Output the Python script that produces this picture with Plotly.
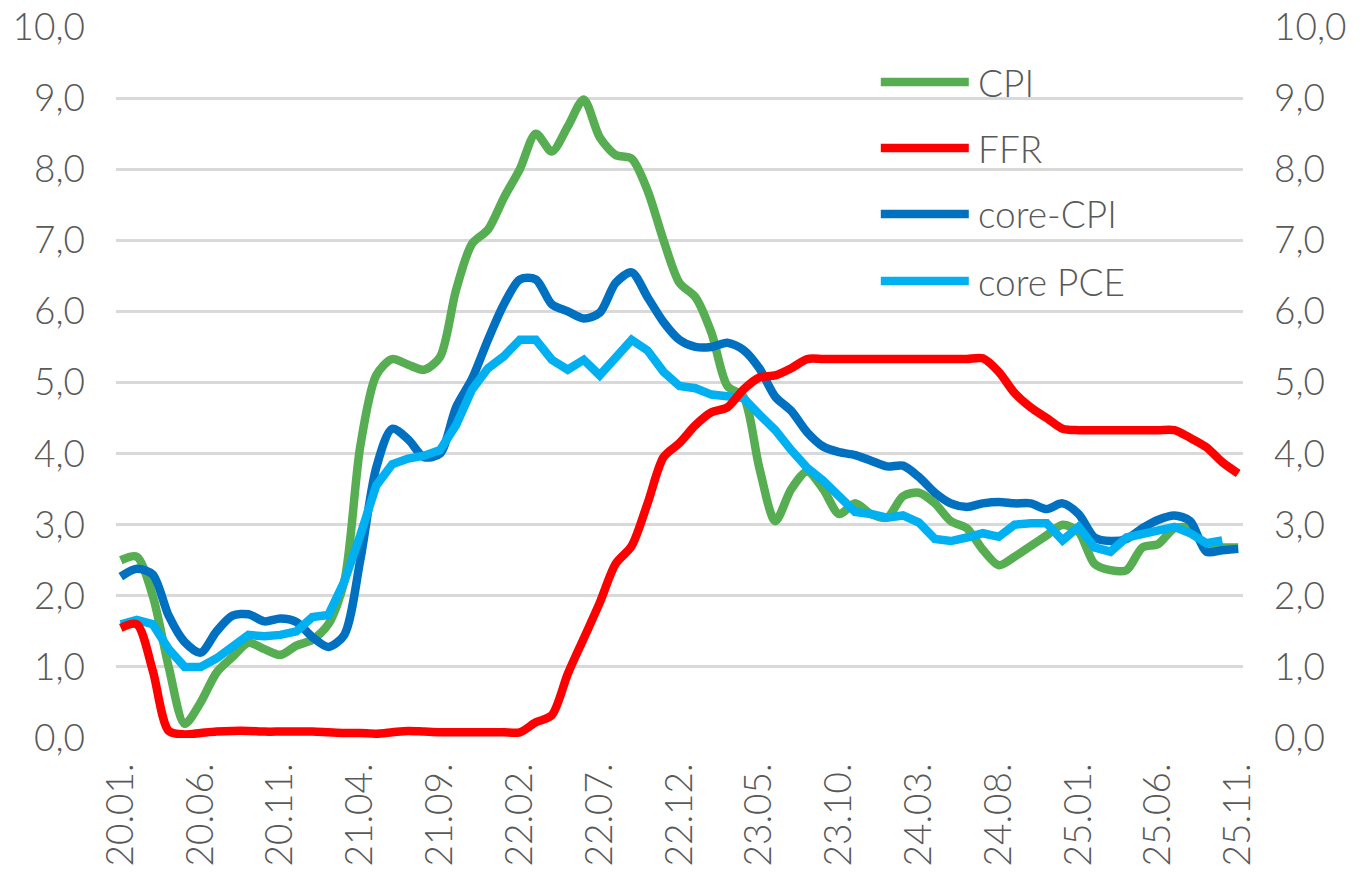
import plotly.graph_objects as go

# ---- data (monthly, 2020.01 .. 2025.11) ----
months = [f"{y % 100:02d}.{m:02d}." for y in range(2020, 2026) for m in range(1, 13)][:71]
tick_labels = ["20.01.", "20.06.", "20.11.", "21.04.", "21.09.", "22.02.", "22.07.",
               "22.12.", "23.05.", "23.10.", "24.03.", "24.08.", "25.01.", "25.06.", "25.11."]
y_ticks = [0, 1, 2, 3, 4, 5, 6, 7, 8, 9, 10]

cpi = [2.5, 2.55, 2.0, 1.0, 0.2, 0.5, 0.92, 1.14, 1.34, 1.25,
       1.17, 1.3, 1.38, 1.6, 2.2, 4.1, 5.1, 5.33, 5.25, 5.18,
       5.36, 6.3, 6.95, 7.15, 7.6, 8.0, 8.5, 8.25, 8.6, 8.98,
       8.45, 8.2, 8.15, 7.7, 7.0, 6.4, 6.2, 5.7, 4.95, 4.8,
       3.8, 3.05, 3.5, 3.75, 3.5, 3.15, 3.3, 3.15, 3.1, 3.4,
       3.45, 3.3, 3.05, 2.95, 2.65, 2.43, 2.55, 2.7, 2.85, 3.0,
       2.9, 2.45, 2.36, 2.36, 2.68, 2.73, 2.95, 2.95, 2.68, 2.68, 2.68]

ffr = [1.55, 1.6, 0.95, 0.1, 0.05, 0.07, 0.09, 0.1, 0.1, 0.09,
       0.09, 0.09, 0.09, 0.08, 0.07, 0.07, 0.06, 0.08, 0.1, 0.09,
       0.08, 0.08, 0.08, 0.08, 0.08, 0.08, 0.22, 0.32, 0.9, 1.4,
       1.9, 2.45, 2.7, 3.3, 3.95, 4.15, 4.4, 4.58, 4.65, 4.9,
       5.07, 5.1, 5.2, 5.33, 5.33, 5.33, 5.33, 5.33, 5.33, 5.33,
       5.33, 5.33, 5.33, 5.33, 5.34, 5.15, 4.85, 4.65, 4.5, 4.35,
       4.33, 4.33, 4.33, 4.33, 4.33, 4.33, 4.33, 4.22, 4.09, 3.88, 3.72]

core_cpi = [2.27, 2.38, 2.3, 1.72, 1.35, 1.2, 1.5, 1.72, 1.74, 1.64,
            1.68, 1.63, 1.42, 1.28, 1.45, 2.5, 3.8, 4.35, 4.2, 3.95,
            4.0, 4.65, 5.05, 5.6, 6.1, 6.45, 6.45, 6.1, 6.0, 5.9,
            5.98, 6.4, 6.55, 6.2, 5.85, 5.6, 5.5, 5.5, 5.56, 5.46,
            5.2, 4.8, 4.6, 4.3, 4.1, 4.02, 3.98, 3.9, 3.82, 3.83,
            3.67, 3.45, 3.3, 3.25, 3.3, 3.32, 3.3, 3.3, 3.22, 3.3,
            3.15, 2.82, 2.77, 2.8, 2.95, 3.07, 3.13, 3.05, 2.62, 2.64, 2.66]

core_pce = [1.6, 1.66, 1.6, 1.25, 1.0, 1.0, 1.12, 1.3, 1.45, 1.43,
            1.45, 1.5, 1.7, 1.73, 2.2, 2.85, 3.55, 3.85, 3.93, 3.97,
            4.05, 4.4, 4.9, 5.2, 5.37, 5.6, 5.6, 5.32, 5.18, 5.32,
            5.1, 5.35, 5.6, 5.45, 5.15, 4.95, 4.92, 4.83, 4.8, 4.78,
            4.55, 4.33, 4.05, 3.8, 3.62, 3.42, 3.18, 3.15, 3.1, 3.13,
            3.03, 2.8, 2.77, 2.82, 2.88, 2.83, 3.0, 3.02, 3.02, 2.78,
            2.97, 2.68, 2.62, 2.82, 2.87, 2.92, 2.97, 2.88, 2.74, 2.78, None]

series = [
    ("CPI", cpi, "#57AE52", "spline", "y"),
    ("FFR", ffr, "#FF0000", "spline", "y2"),
    ("core-CPI", core_cpi, "#0070C0", "spline", "y"),
    ("core PCE", core_pce, "#00B0F0", "linear", "y"),
]

FONT = "Lato"
TXT = "#595959"
FS = 37

# layout geometry (pixels)
W, H = 1364, 888
L, R, T, B = 116.2, 120.8, 27, 150
PW, PH = W - L - R, H - T - B

fig = go.Figure()
for name, vals, col, shape, ax in series:
    fig.add_trace(go.Scatter(
        x=months, y=vals, name=name, mode="lines", yaxis=ax,
        line=dict(color=col, width=8.5, shape=shape, smoothing=0.8),
        showlegend=False, hoverinfo="skip", connectgaps=False,
    ))

# hand-drawn legend (long line samples as in the reference)
leg_y = [82, 148, 214, 281]
for (name, _, col, _, _), py in zip(series, leg_y):
    yp = (T + PH - py) / PH
    fig.add_shape(type="line", xref="paper", yref="paper",
                  x0=(881 - L) / PW, x1=(969 - L) / PW, y0=yp, y1=yp,
                  line=dict(color=col, width=8.5))
    fig.add_annotation(xref="paper", yref="paper", x=(976 - L) / PW, y=yp,
                       text=name, showarrow=False, xanchor="left", yanchor="middle",
                       font=dict(family=FONT, size=FS, color=TXT, weight=300))

axis_y = dict(range=[0, 10], tickvals=y_ticks, tickformat=".1f",
              tickfont=dict(family=FONT, size=FS, color=TXT, weight=300),
              showline=False, zeroline=False, ticks="", fixedrange=True,
              automargin=False)

fig.update_layout(
    width=W, height=H,
    margin=dict(l=L, r=R, t=T, b=B, pad=0, autoexpand=False),
    paper_bgcolor="white", plot_bgcolor="white",
    separators=", ",
    font=dict(family=FONT, color=TXT, weight=300),
    xaxis=dict(type="category", range=[-0.3, 70.3], tickvals=tick_labels,
               ticktext=tick_labels, tickangle=-90,
               tickfont=dict(family=FONT, size=FS, color=TXT, weight=300),
               showgrid=False, showline=False, zeroline=False, ticks="",
               ticklabelstandoff=17, automargin=False),
    yaxis=dict(**axis_y, showgrid=True, gridcolor="#D9D9D9", gridwidth=3,
               ticklabelstandoff=30),
    yaxis2=dict(**axis_y, overlaying="y", side="right", showgrid=False,
                ticklabelstandoff=30),
)

fig.write_html("out.html")
